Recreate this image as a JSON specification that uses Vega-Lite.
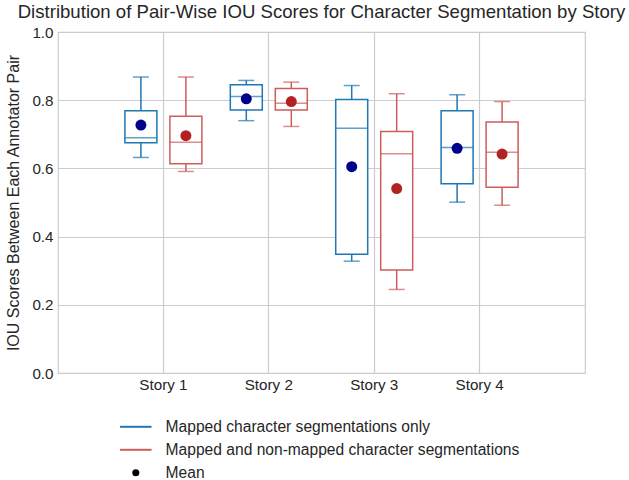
{
  "$schema": "https://vega.github.io/schema/vega-lite/v6.json",
  "autosize": {"type": "none"},
  "width": 527,
  "height": 341,
  "padding": {"left": 58, "top": 32, "right": 44, "bottom": 107},
  "background": "white",
  "title": {
    "text": "Distribution of Pair-Wise IOU Scores for Character Segmentation by Story",
    "font": "Liberation Sans",
    "fontSize": 18.6,
    "fontWeight": "normal",
    "color": "#262626",
    "anchor": "middle",
    "offset": 3
  },
  "config": {
    "view": {"stroke": "#cccccc", "strokeWidth": 1.2},
    "axis": {
      "labelFont": "Liberation Sans",
      "titleFont": "Liberation Sans",
      "labelFontSize": 15.2,
      "titleFontSize": 16,
      "labelColor": "#262626",
      "titleColor": "#262626",
      "titleFontWeight": "normal",
      "gridColor": "#cccccc",
      "gridWidth": 1.2,
      "domain": false,
      "ticks": false
    },
    "legend": {
      "labelFont": "Liberation Sans",
      "labelFontSize": 15.6,
      "labelColor": "#262626",
      "labelLimit": 0
    }
  },
  "data": {
    "values": [
      {"story": "Story 1", "series": "Mapped character segmentations only", "wlo": 0.632, "q1": 0.675, "median": 0.690, "q3": 0.769, "whi": 0.868, "mean": 0.727},
      {"story": "Story 1", "series": "Mapped and non-mapped character segmentations", "wlo": 0.591, "q1": 0.614, "median": 0.677, "q3": 0.753, "whi": 0.868, "mean": 0.696},
      {"story": "Story 2", "series": "Mapped character segmentations only", "wlo": 0.740, "q1": 0.771, "median": 0.811, "q3": 0.845, "whi": 0.858, "mean": 0.804},
      {"story": "Story 2", "series": "Mapped and non-mapped character segmentations", "wlo": 0.723, "q1": 0.771, "median": 0.791, "q3": 0.834, "whi": 0.853, "mean": 0.796},
      {"story": "Story 3", "series": "Mapped character segmentations only", "wlo": 0.328, "q1": 0.348, "median": 0.718, "q3": 0.802, "whi": 0.843, "mean": 0.605},
      {"story": "Story 3", "series": "Mapped and non-mapped character segmentations", "wlo": 0.245, "q1": 0.302, "median": 0.643, "q3": 0.708, "whi": 0.819, "mean": 0.541},
      {"story": "Story 4", "series": "Mapped character segmentations only", "wlo": 0.501, "q1": 0.555, "median": 0.661, "q3": 0.769, "whi": 0.816, "mean": 0.659},
      {"story": "Story 4", "series": "Mapped and non-mapped character segmentations", "wlo": 0.492, "q1": 0.545, "median": 0.647, "q3": 0.736, "whi": 0.796, "mean": 0.642}
    ]
  },
  "encoding": {
    "x": {
      "field": "story",
      "type": "nominal",
      "title": null,
      "scale": {"paddingInner": 0, "paddingOuter": 0.5},
      "axis": {"labelAngle": 0, "grid": true, "bandPosition": 0.5, "labelPadding": 4}
    },
    "xOffset": {
      "field": "series",
      "type": "nominal",
      "scale": {
        "domain": ["Mapped character segmentations only", "Mapped and non-mapped character segmentations"],
        "paddingInner": 0.289,
        "paddingOuter": 0.316
      }
    }
  },
  "layer": [
    {
      "mark": {"type": "rule", "strokeWidth": 1.5},
      "encoding": {
        "y": {
          "field": "wlo",
          "type": "quantitative",
          "scale": {"domain": [0, 1]},
          "axis": {"values": [0, 0.2, 0.4, 0.6, 0.8, 1.0], "format": ".1f", "labelPadding": 5, "titlePadding": 10},
          "title": "IOU Scores Between Each Annotator Pair"
        },
        "y2": {"field": "whi"},
        "stroke": {
          "field": "series",
          "type": "nominal",
          "scale": {
            "domain": ["Mapped character segmentations only", "Mapped and non-mapped character segmentations", "Mean"],
            "range": ["#1f77b4", "#cd5c5c", "black"]
          },
          "legend": {
            "title": null,
            "orient": "none",
            "legendX": 70,
            "legendY": 387,
            "symbolType": "M-3,0H3",
            "symbolSize": 110,
            "symbolStrokeWidth": 2,
            "labelOffset": 22,
            "rowPadding": 6,
            "encode": {
              "symbols": {
                "update": {
                  "shape": {"signal": "datum.value === 'Mean' ? 'circle' : 'M-3,0H3'"},
                  "size": {"signal": "datum.value === 'Mean' ? 50 : 110"},
                  "fill": {"signal": "datum.value === 'Mean' ? 'black' : 'transparent'"},
                  "strokeWidth": {"signal": "datum.value === 'Mean' ? 0 : 2"}
                }
              }
            }
          }
        }
      }
    },
    {
      "mark": {"type": "bar", "fill": "white", "strokeWidth": 1.5},
      "encoding": {
        "y": {"field": "q1", "type": "quantitative"},
        "y2": {"field": "q3"},
        "stroke": {"field": "series", "type": "nominal"}
      }
    },
    {
      "mark": {"type": "tick", "size": 32, "thickness": 1.5},
      "encoding": {
        "y": {"field": "median", "type": "quantitative"},
        "color": {
          "field": "series",
          "type": "nominal",
          "scale": {
            "domain": ["Mapped character segmentations only", "Mapped and non-mapped character segmentations"],
            "range": ["#1f77b4", "#cd5c5c"]
          },
          "legend": null
        }
      }
    },
    {
      "mark": {"type": "tick", "size": 16, "thickness": 1.5},
      "encoding": {
        "y": {"field": "wlo", "type": "quantitative"},
        "color": {"field": "series", "type": "nominal", "legend": null}
      }
    },
    {
      "mark": {"type": "tick", "size": 16, "thickness": 1.5},
      "encoding": {
        "y": {"field": "whi", "type": "quantitative"},
        "color": {"field": "series", "type": "nominal", "legend": null}
      }
    },
    {
      "mark": {"type": "point", "filled": true, "shape": "circle", "size": 121, "opacity": 1},
      "encoding": {
        "y": {"field": "mean", "type": "quantitative"},
        "fill": {
          "field": "series",
          "type": "nominal",
          "scale": {
            "domain": ["Mapped character segmentations only", "Mapped and non-mapped character segmentations"],
            "range": ["#00008b", "#b22222"]
          },
          "legend": null
        }
      }
    }
  ]
}
